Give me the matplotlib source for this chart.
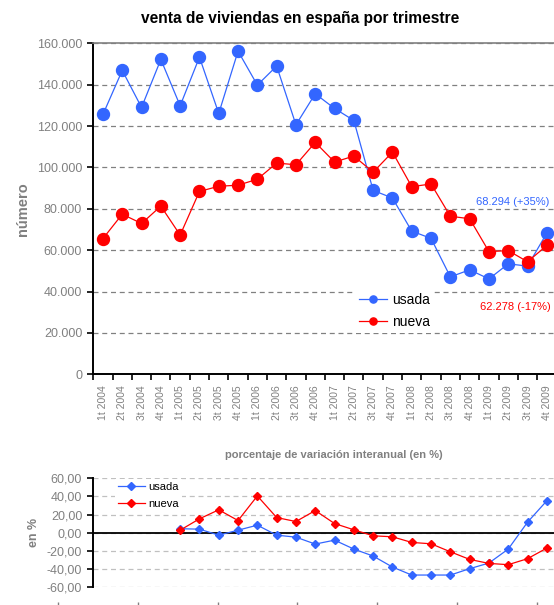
import matplotlib
matplotlib.use("Agg")
import matplotlib.pyplot as plt
from matplotlib.ticker import FixedLocator, FuncFormatter, MultipleLocator

plt.rcParams['font.family'] = ['Liberation Sans', 'DejaVu Sans']

# ---- data ----
quarters = ["1t 2004", "2t 2004", "3t 2004", "4t 2004",
            "1t 2005", "2t 2005", "3t 2005", "4t 2005",
            "1t 2006", "2t 2006", "3t 2006", "4t 2006",
            "1t 2007", "2t 2007", "3t 2007", "4t 2007",
            "1t 2008", "2t 2008", "3t 2008", "4t 2008",
            "1t 2009", "2t 2009", "3t 2009", "4t 2009"]

usada = [125600, 146900, 129000, 152200, 129800, 153300, 126100, 156200,
         139800, 149000, 120600, 135600, 128500, 122700, 88900, 85200,
         69200, 65700, 47100, 50500, 46100, 53400, 52300, 68294]

nueva = [65600, 77400, 72900, 81300, 67300, 88400, 90900, 91400,
         94300, 102100, 101300, 112100, 102600, 105500, 97700, 107400,
         90700, 92000, 76400, 75200, 59300, 59800, 54400, 62278]

# interannual variation (%), from 1t 2005 onwards
var_quarters = quarters[4:]
var_usada = [4.5, 4.0, -2.6, 2.9, 8.4, -2.6, -4.8, -12.4, -8.1, -17.9,
             -25.6, -37.7, -46.5, -46.5, -46.5, -39.5, -33.3, -17.9, 11.7, 35.3]
var_nueva = [2.9, 15.4, 25.3, 13.5, 40.6, 16.8, 12.4, 24.5, 10.2, 3.3,
             -3.3, -4.4, -10.6, -12.1, -20.9, -29.3, -33.7, -35.1, -28.5, -16.8]

last_pct = ["+35%", "-17%"]

series_names = ["usada", "nueva"]
BLUE = "#3366FF"
RED = "#FF0000"
GRAY = "#808080"

W, H = 554, 605
fig = plt.figure(figsize=(W / 100, H / 100), dpi=100)
fig.patch.set_facecolor("white")

def fx(px):
    return px / W

def fy(py):
    return 1 - py / H

# ---- top chart ----
L, R = 93.3, 556.5
top, bot = 43.3, 374.3
ax = fig.add_axes([fx(L), fy(bot), fx(R - L), (bot - top) / H])
x = list(range(len(quarters)))
ax.plot(x, usada, color=BLUE, lw=0.9, marker="o", ms=8.6, mec=BLUE, mfc=BLUE,
        label=series_names[0], zorder=3)
ax.plot(x, nueva, color=RED, lw=0.9, marker="o", ms=8.6, mec=RED, mfc=RED,
        label=series_names[1], zorder=3)
ax.set_xlim(-0.5, len(quarters) - 0.5)
ax.set_ylim(0, 160000)
ax.yaxis.set_major_locator(MultipleLocator(20000))
ax.yaxis.set_major_formatter(FuncFormatter(lambda v, p: f"{int(v):,}".replace(",", ".")))
ax.grid(axis="y", color=GRAY, ls=(0, (4, 3)), lw=0.9)
ax.set_axisbelow(True)
ax.spines["right"].set_visible(False)
ax.spines["top"].set_color(GRAY)
ax.spines["top"].set_linewidth(1.2)
ax.spines["left"].set_linewidth(1.4)
ax.spines["bottom"].set_linewidth(1.4)
ax.set_xticks(x)
ax.set_xticklabels(quarters, rotation=90, color=GRAY, fontsize=7.5)
ax.xaxis.set_minor_locator(FixedLocator([i - 0.5 for i in range(len(quarters) + 1)]))
ax.tick_params(axis="x", which="major", length=0, pad=8)
ax.tick_params(axis="x", which="minor", length=4, width=1.2, direction="out")
ax.tick_params(axis="y", length=4, width=1.2, labelcolor=GRAY, labelsize=9, pad=4)
ax.set_ylabel("número", color=GRAY, fontsize=10.5, fontweight="bold", labelpad=5)

ax.legend(loc="upper left", bbox_to_anchor=(fx(348), fy(282)),
          bbox_transform=fig.transFigure, fontsize=10, frameon=True,
          facecolor="white", edgecolor="none", framealpha=1, fancybox=False,
          handlelength=2.0, handletextpad=0.35, labelspacing=0.55,
          borderpad=0.3, markerscale=0.6)

ax.annotate(f"{usada[-1]:,}".replace(",", ".") + f" ({last_pct[0]})",
            xy=(x[-1], usada[-1]), xytext=(1.5, 22.5), textcoords="offset points",
            ha="right", va="center", color=BLUE, fontsize=8)
ax.annotate(f"{nueva[-1]:,}".replace(",", ".") + f" ({last_pct[1]})",
            xy=(x[-1], nueva[-1]), xytext=(2.5, -44), textcoords="offset points",
            ha="right", va="center", color=RED, fontsize=8)

fig.text(fx(300), fy(18), "venta de viviendas en españa por trimestre",
         ha="center", va="center", fontsize=11.2, fontweight="bold", color="black")

# ---- bottom chart ----
btop, bbot = 478.3, 587.3
ax2 = fig.add_axes([fx(L), fy(bbot), fx(R - L), (bbot - btop) / H])
xv = [quarters.index(q) for q in var_quarters]
ax2.plot(xv, var_usada, color=BLUE, lw=0.9, marker="D", ms=4.5, mec=BLUE, mfc=BLUE,
         label=series_names[0], zorder=3)
ax2.plot(xv, var_nueva, color=RED, lw=0.9, marker="D", ms=4.5, mec=RED, mfc=RED,
         label=series_names[1], zorder=3)
ax2.axhline(0, color="black", lw=1.3, zorder=2)
ax2.set_xlim(-0.5, len(quarters) - 0.5)
ax2.set_ylim(-60, 60)
ax2.yaxis.set_major_locator(MultipleLocator(20))
ax2.yaxis.set_major_formatter(FuncFormatter(lambda v, p: f"{v:.2f}".replace(".", ",")))
ax2.grid(axis="y", color="#C0C0C0", ls=(0, (4, 3)), lw=0.9)
ax2.set_axisbelow(True)
for s in ["right", "top", "bottom"]:
    ax2.spines[s].set_visible(False)
ax2.spines["left"].set_linewidth(1.4)
ax2.set_xticks([])
ax2.tick_params(axis="y", length=4, width=1.2, labelcolor=GRAY, labelsize=9, pad=4)
ax2.set_ylabel("en %", color=GRAY, fontsize=9, fontweight="bold", labelpad=5)
ax2.legend(loc="upper left", bbox_to_anchor=(fx(109), fy(473)),
           bbox_transform=fig.transFigure, fontsize=8, frameon=True,
           facecolor="white", edgecolor="none", framealpha=1, fancybox=False,
           handlelength=2.4, handletextpad=0.3, labelspacing=0.65, borderpad=0.3)

fig.text(fx(334), fy(455), "porcentaje de variación interanual (en %)",
         ha="center", va="center", fontsize=8, fontweight="bold", color=GRAY)

# truncated x-axis tick marks at the very bottom
ax3 = fig.add_axes([fx(57.7), fy(601.5), fx(537.3 - 57.7), 0.0001])
ax3.set_xlim(0, 6)
ax3.set_xticks(range(7))
ax3.set_xticklabels([])
ax3.set_yticks([])
for s in ax3.spines.values():
    s.set_visible(False)
ax3.tick_params(axis="x", length=4, width=1.0, color=GRAY, direction="out")
ax3.patch.set_alpha(0)

fig.savefig("out.png", dpi=100, facecolor="white")
